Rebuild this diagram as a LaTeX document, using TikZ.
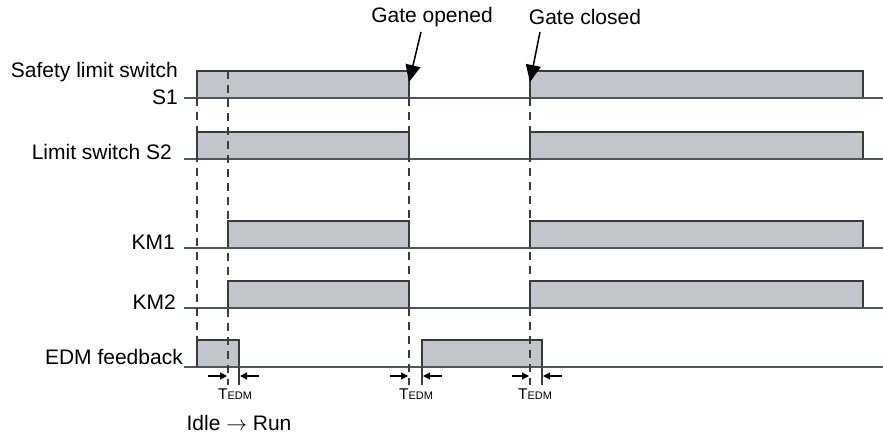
\documentclass[tikz,border=0pt]{standalone}
\usepackage{fontspec}
\setmainfont{Liberation Sans}
\usetikzlibrary{arrows.meta}
\definecolor{pulsefill}{HTML}{C2C5CC}
\definecolor{pulseline}{HTML}{3A3A3A}
\definecolor{baseline}{HTML}{4E5858}
\definecolor{dashcol}{HTML}{3C3C3C}
\tikzset{
  lbl/.style={font=\fontsize{21}{24}\selectfont, inner sep=0pt, anchor=east},
  toplbl/.style={font=\fontsize{21}{24}\selectfont, inner sep=0pt},
  pulse/.style={fill=pulsefill, draw=pulseline, line width=1.5pt},
  base/.style={draw=baseline, line width=1.5pt},
  vdash/.style={draw=dashcol, line width=1.5pt, dash pattern=on 8pt off 6pt},
  tick/.style={draw=pulseline, line width=1.5pt},
  tarrow/.style={draw=black, line width=1.2pt, -{Triangle[length=7pt,width=7pt]}},
  gatearrow/.style={draw=black, line width=1.5pt, -{Triangle[length=17pt,width=15pt]}},
  tedm/.style={inner sep=0pt}
}
\begin{document}
\begin{tikzpicture}[x=1pt,y=-1pt]
\useasboundingbox (0,0) rectangle (883,435);
% labels
\node[lbl] (s1a) at (178,72) {Safety limit switch};
\node[lbl] (s1b) at (178,97) {S1};
\node[lbl] (s2) at (172,152) {Limit switch S2};
\node[lbl] (km1) at (175,242) {KM1};
\node[lbl] (km2) at (176,302) {KM2};
\node[lbl] (edm) at (183,357) {EDM feedback};
\node[toplbl] (go) at (432,17) {Gate opened};
\node[toplbl] (gc) at (585,17) {Gate closed};
\node[toplbl] (idle) at (239,423) {Idle $\rightarrow$ Run};
\node[tedm] (t1) at (235,394) {\fontsize{15.5}{16}\selectfont T\fontsize{11}{12}\selectfont EDM};
\node[tedm] (t2) at (416,394) {\fontsize{15.5}{16}\selectfont T\fontsize{11}{12}\selectfont EDM};
\node[tedm] (t3) at (535,394) {\fontsize{15.5}{16}\selectfont T\fontsize{11}{12}\selectfont EDM};
% pulses
\foreach \ya/\yb in {71/98,132/159} {
  \draw[pulse] (197,\yb) -- (197,\ya) -- (409,\ya) -- (409,\yb);
  \draw[pulse] (530,\yb) -- (530,\ya) -- (863,\ya) -- (863,\yb);
}
\foreach \ya/\yb in {221/248,281/308} {
  \draw[pulse] (228,\yb) -- (228,\ya) -- (409,\ya) -- (409,\yb);
  \draw[pulse] (530,\yb) -- (530,\ya) -- (863,\ya) -- (863,\yb);
}
\draw[pulse] (197,367) -- (197,340) -- (239,340) -- (239,367);
\draw[pulse] (422,367) -- (422,340) -- (542,340) -- (542,367);
% baselines
\foreach \y in {98,159,248,308,367} \draw[base] (184,\y) -- (883,\y);
% dashed timing lines
\draw[vdash] (197,98) -- (197,367);
\draw[vdash] (228,71) -- (228,385);
\draw[vdash] (409,98) -- (409,385);
\draw[vdash] (530,98) -- (530,385);
% ticks
\foreach \x in {239,422,542} \draw[tick] (\x,367) -- (\x,385);
% TEDM arrows
\coordinate (a1s) at (208,376); \coordinate (a1e) at (227,376);
\coordinate (b1s) at (259,376); \coordinate (b1e) at (240,376);
\coordinate (a2s) at (390,376); \coordinate (a2e) at (408,376);
\coordinate (b2s) at (442,376); \coordinate (b2e) at (423,376);
\coordinate (a3s) at (512,376); \coordinate (a3e) at (529,376);
\coordinate (b3s) at (562,376); \coordinate (b3e) at (543,376);
\draw[tarrow] (a1s) -- (a1e);
\draw[tarrow] (b1s) -- (b1e);
\draw[tarrow] (a2s) -- (a2e);
\draw[tarrow] (b2s) -- (b2e);
\draw[tarrow] (a3s) -- (a3e);
\draw[tarrow] (b3s) -- (b3e);
% gate arrows
\coordinate (gos) at (421,32); \coordinate (goe) at (409,82);
\coordinate (gcs) at (540,32); \coordinate (gce) at (530,82);
\draw[gatearrow] (gos) -- (goe);
\draw[gatearrow] (gcs) -- (gce);
\end{tikzpicture}
\end{document}
